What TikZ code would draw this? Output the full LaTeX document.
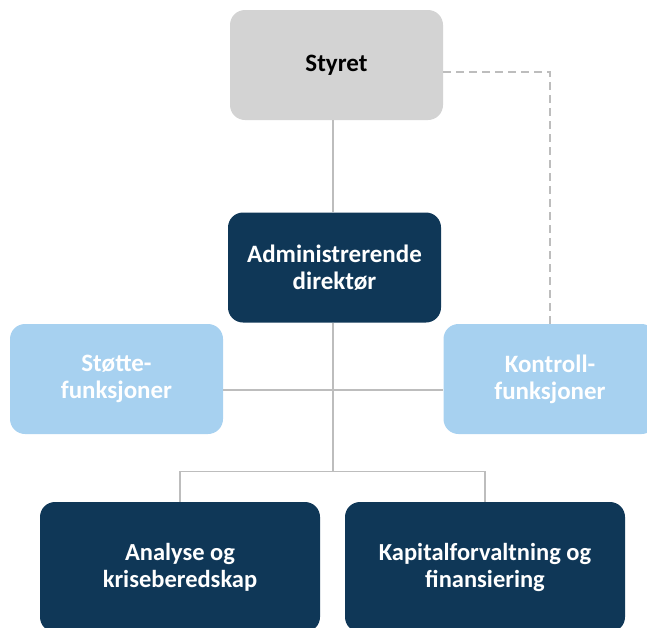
\documentclass[tikz,border=0pt]{standalone}
\usepackage{fontspec}
\setmainfont{Carlito}
\usetikzlibrary{positioning, calc}
\definecolor{navy}{HTML}{0F3757}
\definecolor{boardgray}{HTML}{D3D3D3}
\definecolor{lightblue}{HTML}{A7D1F0}
\definecolor{linegray}{HTML}{BDBDBD}
\tikzset{
  blk/.style   = {rounded corners=15pt, align=center, inner sep=0pt,
                  font=\fontsize{25}{27}\selectfont\bfseries,
                  minimum width=213pt, minimum height=110pt},
  board/.style = {blk, fill=boardgray, text=black},
  exec/.style  = {blk, fill=navy, text=white},
  staff/.style = {blk, fill=lightblue, text=white},
  unit/.style  = {exec, minimum width=280pt, minimum height=130pt,
                  font=\fontsize{24.5}{27}\selectfont\bfseries},
  ln/.style    = {draw=linegray, line width=1.2pt},
  dsh/.style   = {ln, dash pattern=on 8pt off 5pt},
}

\begin{document}
\begin{tikzpicture}[x=1pt, y=-1pt]
\useasboundingbox (0,0) rectangle (647,627);
\clip (0,0) rectangle (647,627);
  % boxes
  \node[board] (styret) at (336.5,65) {Styret};
  \node[exec]  (adm)    at (334.5,267.5) {Administrerende\\direktør};
  \node[staff] (stotte) at (116.5,379) {Støtte-\\funksjoner};
  \node[staff] (kontroll) at (550,379) {Kontroll-\\funksjoner};
  \node[unit]  (analyse) at (180,567) {Analyse og\\kriseberedskap};
  \node[unit]  (kapital) at (485,567) {Kapitalforvaltning og\\finansiering};
  % joints on the spine
  \coordinate (jstab) at (333,390);
  \coordinate (jlow)  at (333,471.5);
  % lines
  \draw[ln] (styret.south -| jstab) -- (adm.north -| jstab);
  \draw[ln] (adm.south -| jstab) -- (jlow);
  \draw[ln] (stotte.east |- jstab) -- (kontroll.west |- jstab);
  \draw[ln] (analyse.north) |- (jlow) -| (kapital.north);
  \draw[dsh] ([yshift=-7pt]styret.east) -| (kontroll.north);
\end{tikzpicture}
\end{document}
